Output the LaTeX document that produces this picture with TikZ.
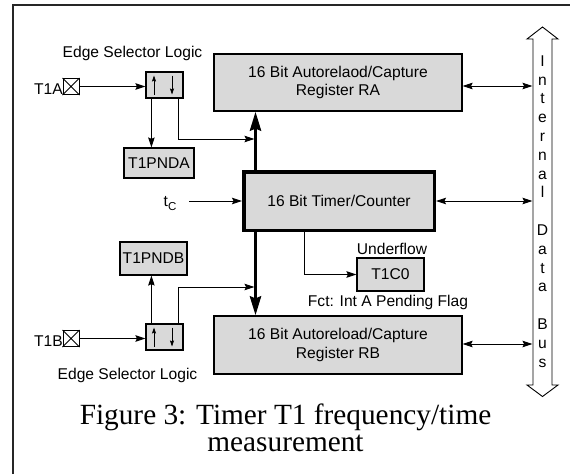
\documentclass[tikz,border=0pt]{standalone}
\usepackage{fontspec}
\setmainfont{Liberation Sans}
\newfontfamily\capfont{Liberation Serif}
\usetikzlibrary{arrows.meta,calc}

\tikzset{
  lbl/.style={font=\fontsize{15.6}{18.8}\selectfont, inner sep=0pt},
  blk/.style={draw=black, line width=1.2pt, fill=black!15, inner sep=0pt,
              font=\fontsize{15.6}{18.8}\selectfont, align=center},
  pinbox/.style={draw=black, line width=1pt, fill=white, inner sep=0pt,
                 minimum size=16pt},
  arr/.style={line width=0.9pt, -{Stealth[length=10pt,width=6.5pt,inset=1.5pt]}},
  darr/.style={line width=0.9pt,
    {Stealth[length=10pt,width=6.5pt,inset=1.5pt]}-{Stealth[length=10pt,width=6.5pt,inset=1.5pt]}},
  fatarr/.style={line width=3.5pt, -{Stealth[length=19pt,width=11pt,inset=2pt]}},
  edgearr/.style={line width=0.8pt, -{Stealth[length=6pt,width=4pt,inset=1pt]}},
  capstyle/.style={inner sep=0pt, anchor=base, font=\capfont\fontsize{29.3}{27}\selectfont}
}

\begin{document}
\begin{tikzpicture}[x=1pt,y=-1pt]
\useasboundingbox (0,0) rectangle (570,474);

% outer frame (top and left sides)
\draw[line width=1.7pt, black!85] (12.8,474) -- (12.8,4.8) -- (570,4.8);

% main blocks
\node[blk, minimum width=248pt, minimum height=57pt] (ra) at (338,82.5)
  {16 Bit Autorelaod/Capture\\Register RA};
\node[blk, line width=3.5pt, minimum width=190.5pt, minimum height=58.5pt] (timer) at (339,201)
  {16 Bit Timer/Counter};
\node[blk, minimum width=248pt, minimum height=58pt] (rb) at (338,345)
  {16 Bit Autoreload/Capture\\Register RB};

% pending flags
\node[blk, minimum width=70pt, minimum height=30pt] (pnda) at (159,163) {T1PNDA};
\node[blk, minimum width=67pt, minimum height=33pt] (pndb) at (153.5,258.5) {T1PNDB};
\node[blk, minimum width=67pt, minimum height=33pt] (tc0) at (390.5,274.5) {T1C0};

% edge selectors
\node[blk, minimum width=37pt, minimum height=26pt] (edgea) at (164.5,85) {};
\node[blk, minimum width=37pt, minimum height=26pt] (edgeb) at (164.5,337) {};
\foreach \e in {edgea,edgeb}{
  \draw[edgearr] ($(\e.center)+(-10.5,9.5)$) -- ($(\e.center)+(-10.5,-9.5)$);
  \draw[edgearr] ($(\e.center)+(7.5,-9.5)$) -- ($(\e.center)+(7.5,9.5)$);
}

% input pins
\node[pinbox] (pina) at (71,86.5) {};
\draw[line width=0.8pt] (pina.north west) -- (pina.south east) (pina.south west) -- (pina.north east);
\node[pinbox] (pinb) at (71,338.5) {};
\draw[line width=0.8pt] (pinb.north west) -- (pinb.south east) (pinb.south west) -- (pinb.north east);
\node[lbl, anchor=base east] (t1a) at (63,94.5) {T1A};
\node[lbl, anchor=base east] (t1b) at (63,346.5) {T1B};

% labels
\node[lbl] (esla) at (132.5,53) {Edge Selector Logic};
\node[lbl] (eslb) at (127.5,375) {Edge Selector Logic};
\node[lbl] (ufl) at (392,249) {Underflow};
\node[lbl] (fct) at (388,302) {Fct: Int A Pending Flag};
\node[lbl] (tc) at (170,204) {t\raisebox{-4pt}{\fontsize{11.5}{12}\selectfont C}};

% internal data bus
\draw[line width=0.9pt, fill=white]
  (533,39) -- (527,39) -- (542.5,27) -- (558,39) -- (552,39) -- (552,385)
  -- (558,385) -- (542.5,396.5) -- (527,385) -- (533,385) -- cycle;
\node[lbl, align=center] (bus) at (542.5,211.5)
  {I\\n\\t\\e\\r\\n\\a\\l\\[18.8pt]D\\a\\t\\a\\[18.8pt]B\\u\\s};
\coordinate (busl) at (532.5,0);

% connections
\draw[arr] (pina.east) -- (pina.east -| edgea.west);
\draw[arr] (pinb.east) -- (pinb.east -| edgeb.west);

\draw[arr] ([xshift=6pt]edgea.south west) -- ([xshift=6pt]edgea.south west |- pnda.north);
\coordinate (ja) at (254.5,139);
\draw[arr] ([xshift=-5pt]edgea.south east) |- (ja);

\draw[arr] ([xshift=6pt]edgeb.north west) -- ([xshift=6pt]edgeb.north west |- pndb.south);
\coordinate (jb) at (254.5,287);
\draw[arr] ([xshift=-5pt]edgeb.north east) |- (jb);

\draw[fatarr] ([xshift=13.5pt]timer.north west) -- ([xshift=13.5pt]timer.north west |- ra.south);
\draw[fatarr] ([xshift=13.5pt]timer.south west) -- ([xshift=13.5pt]timer.south west |- rb.north);

\coordinate (tcin) at (189,201);
\draw[arr] (tcin) -- (timer.west);

\coordinate (uf) at (304,0);
\draw[arr] (timer.south -| uf) |- (tc0.west);

\draw[darr] ([yshift=-3.5pt]ra.east) -- ([yshift=-3.5pt]ra.east -| busl);
\draw[darr] (timer.east) -- (timer.east -| busl);
\draw[darr] ([yshift=1pt]rb.east) -- ([yshift=1pt]rb.east -| busl);

% caption
\node[capstyle] (cap1) at (285.5,424) {Figure 3: Timer T1 frequency/time};
\node[capstyle] (cap2) at (285.5,451) {measurement};
\end{tikzpicture}
\end{document}
